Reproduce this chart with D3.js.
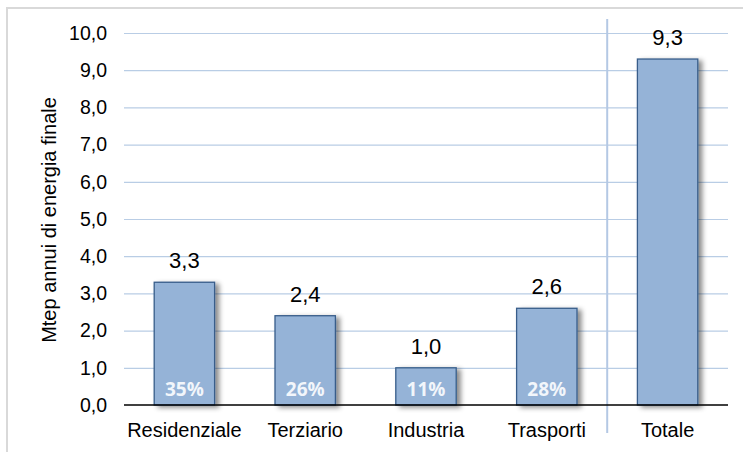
<!DOCTYPE html>
<html lang="it">
  <head>
    <meta charset="utf-8">
    <title>Consumi di energia finale</title>
    <style>
      body { margin: 0; background: #fff; }
    </style>
  </head>
  <body>
    <svg width="743" height="452"></svg>
    <script src="https://cdn.jsdelivr.net/npm/d3@7"></script>
    <script>
      // data
      const categories = ['Residenziale', 'Terziario', 'Industria', 'Trasporti', 'Totale'];
      const values = [3.3, 2.4, 1.0, 2.6, 9.3];
      const shares = ['35%', '26%', '11%', '28%', ''];
      const y_ticks = [0, 1, 2, 3, 4, 5, 6, 7, 8, 9, 10];
      const y_title = 'Mtep annui di energia finale';

      const svg = d3.select('svg');
      const plot = {left: 124, right: 728, top: 33, bottom: 405};
      const font = 'Arial, "Liberation Sans", sans-serif';

      const fmt = d => d3.format('.1f')(d).replace('.', ',');

      // outer frame (only left and top edges are inside the window)
      svg.append('rect')
        .attr('x', 7).attr('y', 8)
        .attr('width', 800).attr('height', 500)
        .attr('fill', 'none')
        .attr('stroke', '#d9d9d9')
        .attr('stroke-width', 2);

      const defs = svg.append('defs');
      defs.append('filter')
        .attr('id', 'shadow')
        .attr('x', '-20%').attr('y', '-10%')
        .attr('width', '160%').attr('height', '130%')
        .append('feDropShadow')
          .attr('dx', 4).attr('dy', 2)
          .attr('stdDeviation', 2.5)
          .attr('flood-color', '#000')
          .attr('flood-opacity', 0.45);

      const x_scale = d3.scaleBand()
        .domain(categories)
        .range([plot.left, plot.right])
        .paddingInner(0.5)
        .paddingOuter(0.25);

      const y_scale = d3.scaleLinear()
        .domain([0, 10])
        .range([plot.bottom, plot.top]);

      // gridlines
      const grid_g = svg.append('g')
        .attr('transform', `translate(${plot.left},0)`)
        .call(d3.axisLeft(y_scale)
          .tickValues(y_ticks.slice(1))
          .tickSize(-(plot.right - plot.left))
          .tickFormat(''));
      grid_g.select('.domain').remove();
      grid_g.selectAll('line')
        .attr('stroke', '#b9cde5')
        .attr('stroke-width', 1.2);

      // separator before the total
      const sep_x = x_scale('Totale') - x_scale.step() * x_scale.paddingInner() / 2;
      svg.append('line')
        .attr('x1', sep_x).attr('x2', sep_x)
        .attr('y1', 19).attr('y2', 433)
        .attr('stroke', '#b4c8e4')
        .attr('stroke-width', 2);

      // y axis labels
      const y_axis_g = svg.append('g')
        .attr('transform', `translate(${plot.left},0)`)
        .call(d3.axisLeft(y_scale)
          .tickValues(y_ticks)
          .tickSize(0)
          .tickPadding(17)
          .tickFormat(fmt));
      y_axis_g.select('.domain').remove();
      y_axis_g.selectAll('text')
        .attr('font-family', font)
        .attr('font-size', '19.5px')
        .attr('fill', '#000');

      // bars
      svg.append('g')
        .selectAll('rect')
        .data(values)
        .enter()
        .append('rect')
          .attr('x', (d, i) => x_scale(categories[i]))
          .attr('y', d => y_scale(d))
          .attr('width', x_scale.bandwidth())
          .attr('height', d => y_scale(0) - y_scale(d))
          .attr('fill', '#95b3d7')
          .attr('stroke', '#385d8a')
          .attr('stroke-width', 1.3)
          .attr('filter', 'url(#shadow)');

      // baseline
      svg.append('line')
        .attr('x1', plot.left).attr('x2', plot.right)
        .attr('y1', y_scale(0)).attr('y2', y_scale(0))
        .attr('stroke', '#000')
        .attr('stroke-width', 1.6);

      // value labels
      svg.append('g')
        .selectAll('text')
        .data(values)
        .enter()
        .append('text')
          .text(d => fmt(d))
          .attr('x', (d, i) => x_scale(categories[i]) + x_scale.bandwidth() / 2)
          .attr('y', d => y_scale(d) - 14)
          .attr('font-family', font)
          .attr('font-size', '22px')
          .attr('fill', '#000')
          .style('text-anchor', 'middle');

      // share labels inside bars
      svg.append('g')
        .selectAll('text')
        .data(shares)
        .enter()
        .append('text')
          .text(d => d)
          .attr('x', (d, i) => x_scale(categories[i]) + x_scale.bandwidth() / 2)
          .attr('y', y_scale(0) - 9.5)
          .attr('font-family', '"Open Sans", sans-serif')
          .attr('font-weight', 'bold')
          .attr('font-size', '19px')
          .attr('fill', '#f2f6fb')
          .style('text-anchor', 'middle');

      // category axis
      const x_axis_g = svg.append('g')
        .attr('transform', `translate(0,${plot.bottom})`)
        .call(d3.axisBottom(x_scale).tickSize(0).tickPadding(18));
      x_axis_g.select('.domain').remove();
      x_axis_g.selectAll('text')
        .attr('font-family', font)
        .attr('font-size', '20px')
        .attr('fill', '#000');

      // y title
      svg.append('text')
        .text(y_title)
        .attr('transform', `translate(56,${(plot.top + plot.bottom) / 2 + 1}) rotate(-90)`)
        .attr('font-family', font)
        .attr('font-size', '20px')
        .attr('fill', '#000')
        .style('text-anchor', 'middle');
    </script>
  </body>
</html>
